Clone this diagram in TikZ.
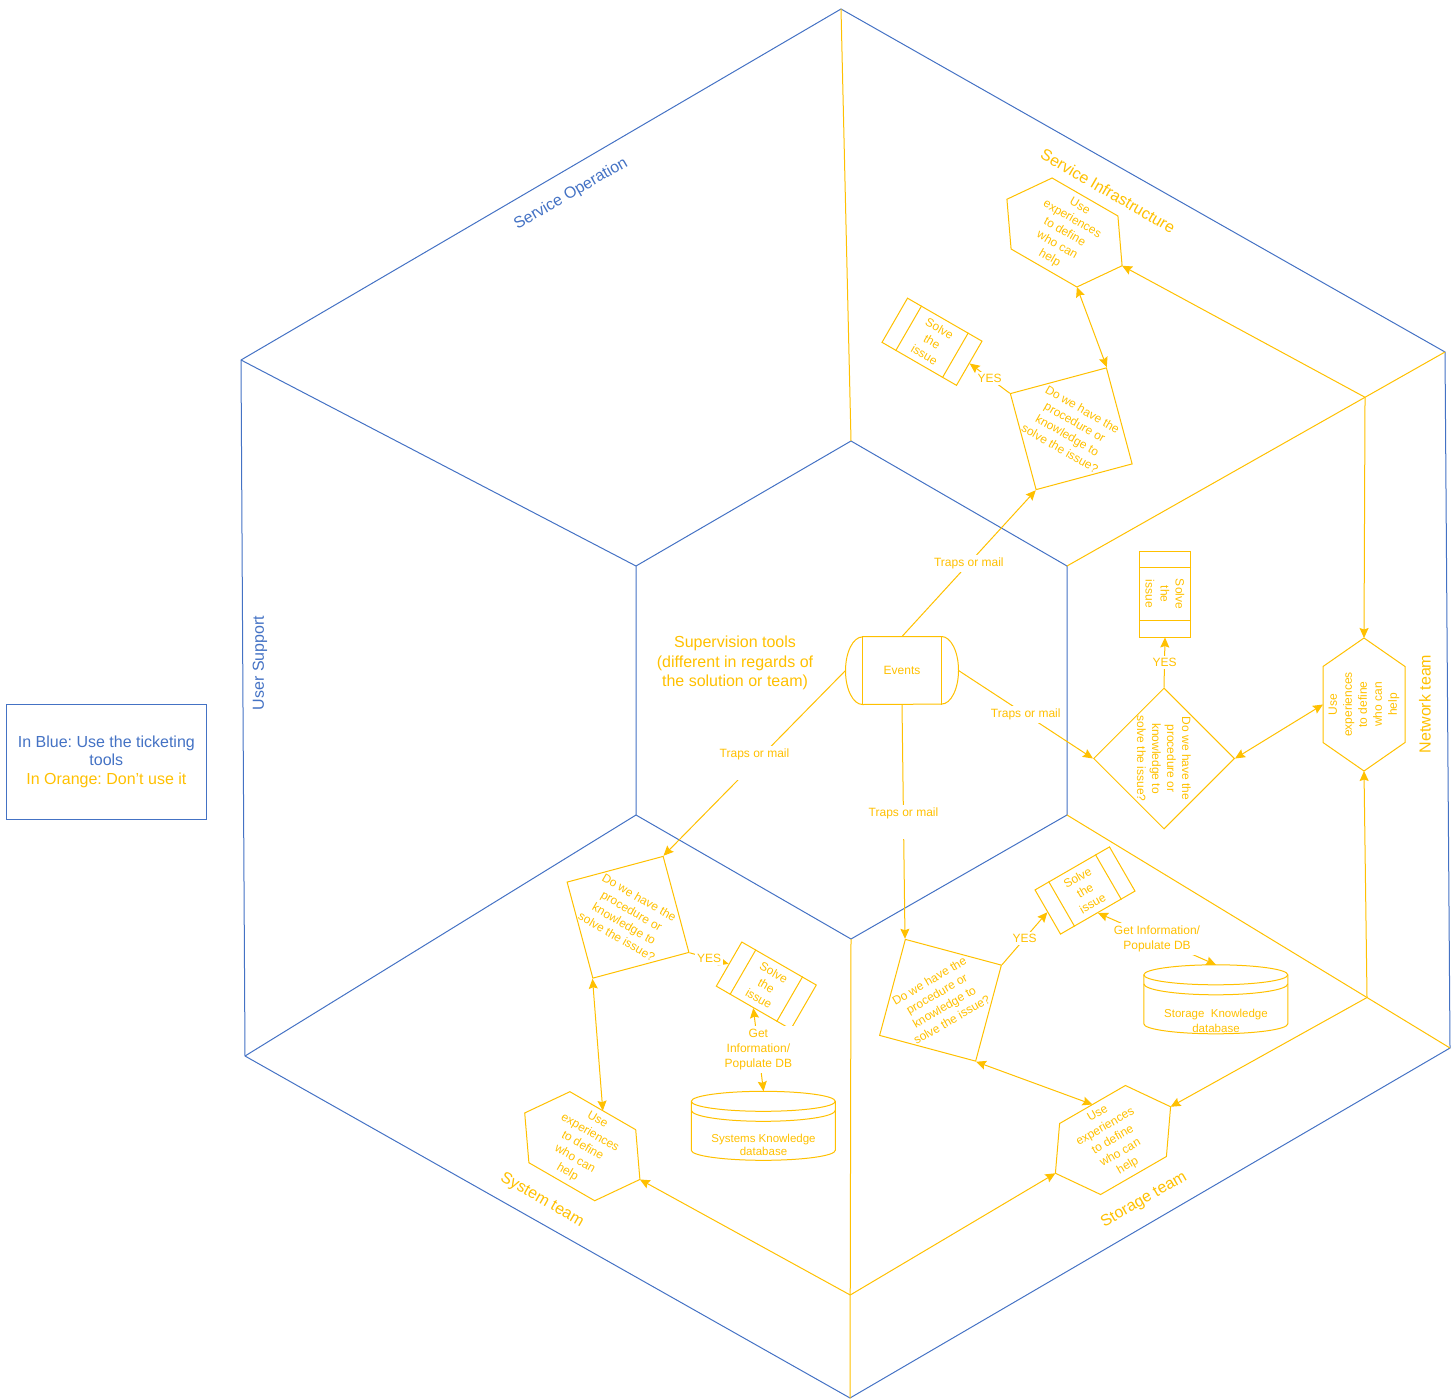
\documentclass[tikz,border=0pt]{standalone}
\usepackage{fontspec}
\setmainfont{Liberation Sans}
\usetikzlibrary{arrows.meta,shapes.geometric,calc}
\definecolor{ublue}{HTML}{4472C4}
\definecolor{uorange}{HTML}{FFC000}

% the two vertical separator lines of a "process" box
\newcommand\procinner[1]{%
  \draw[oline] ($(#1.north west)!0.19!(#1.north east)$) -- ($(#1.south west)!0.19!(#1.south east)$)
               ($(#1.north west)!0.81!(#1.north east)$) -- ($(#1.south west)!0.81!(#1.south east)$);}

% data store outline drawn over an invisible placeholder node
\newcommand\datastore[1]{%
  \begin{scope}[shift={(#1.north west)}]
    \draw[oline] (0,10) arc[start angle=180,end angle=0,x radius=72pt,y radius=10pt]
      -- (144,59) arc[start angle=0,end angle=-180,x radius=72pt,y radius=10pt] -- cycle;
    \draw[oline] (0,10) arc[start angle=180,end angle=360,x radius=72pt,y radius=10pt];
    \draw[oline] (0,19) arc[start angle=180,end angle=360,x radius=72pt,y radius=11pt];
  \end{scope}}

\begin{document}
\frenchspacing
\begin{tikzpicture}[x=1pt,y=-1pt,
  >={Stealth[length=10pt,width=9pt,inset=1.5pt]},
  frameb/.style={draw=ublue,line width=1pt},
  frameo/.style={draw=uorange,line width=1pt},
  oline/.style={draw=uorange,line width=1pt},
  oarrow/.style={oline,->},
  obiarrow/.style={oline,<->},
  otext/.style={text=uorange,font=\fontsize{12}{15}\selectfont,align=center,inner sep=0pt},
  tlabel/.style={otext,fill=white,inner sep=3pt},
  region/.style={font=\fontsize{16}{19.3}\selectfont,inner sep=0pt},
  odia/.style={diamond,draw=uorange,line width=1pt,minimum width=141pt,minimum height=141pt,inner sep=0pt,aspect=1},
  procbox/.style={rectangle,draw=uorange,line width=1pt,minimum width=86pt,minimum height=51pt,inner sep=0pt,
    text=uorange,font=\fontsize{12}{15}\selectfont,align=center},
  dbbox/.style={rectangle,minimum width=144pt,minimum height=69pt,inner sep=0pt},
  hexline/.style={draw=uorange,line width=1pt}
]
\useasboundingbox (0,0) rectangle (1456,1399);

% ---------------- frame: outer and inner hexagons with spokes
\coordinate (O1) at (841,9);
\coordinate (O2) at (241,360);
\coordinate (O3) at (245,1056);
\coordinate (O4) at (850,1398);
\coordinate (O5) at (1450,1048);
\coordinate (O6) at (1445,352);
\coordinate (I1) at (851,441);
\coordinate (I2) at (636,566);
\coordinate (I3) at (636,815);
\coordinate (I4) at (851,939);
\coordinate (I5) at (1067,815);
\coordinate (I6) at (1067,566);
\draw[frameb] (O1) -- (O2) -- (O3) -- (O4) -- (O5) -- (O6) -- cycle;
\draw[frameb] (I1) -- (I2) -- (I3) -- (I4) -- (I5) -- (I6) -- cycle;
\draw[frameb] (O2) -- (I2) (O3) -- (I3);
\draw[frameo] (O1) -- (I1) (O4) -- (I4) (O5) -- (I5) (O6) -- (I6);

% escalation junctions on the spokes
\coordinate (J1) at ($(O6)!0.2116!(I6)$);
\coordinate (J2) at ($(O5)!0.2167!(I5)$);
\coordinate (J3) at ($(O4)!0.2244!(I4)$);

% ---------------- region titles
\node[region,text=ublue,rotate=30] (lblop) at (571,194) {Service Operation};
\node[region,text=uorange,rotate=-30] (lblinf) at (1108,191) {Service Infrastructure};
\node[region,text=ublue,rotate=90] (lblus) at (260,663) {User Support};
\node[region,text=uorange,rotate=90] (lblnet) at (1425,704) {Network team};
\node[region,text=uorange,rotate=-30] (lblsys) at (542,1200) {System team};
\node[region,text=uorange,rotate=30] (lblsto) at (1144,1200) {Storage team};
\node[region,text=uorange,align=center] (sup) at (735,663)
  {Supervision tools\\(different in regards of\\the solution or team)};

% ---------------- legend
\node[draw=ublue,line width=1pt,minimum width=200.7pt,minimum height=115pt,align=center,
  font=\fontsize{16}{18.7}\selectfont,inner sep=0pt] (legend) at (106.35,761.8)
  {\textcolor{ublue}{In Blue: Use the ticketing}\\\textcolor{ublue}{tools}\\\textcolor{uorange}{In Orange: Don't use it}};

% ---------------- events source
\node[otext,minimum width=112.6pt,minimum height=67.6pt] (ev) at (902,670.5) {Events};
\draw[oline] ([xshift=17pt]ev.north west) -- ([xshift=-17pt]ev.north east)
  arc[start angle=90,end angle=-90,x radius=17pt,y radius=33.8pt]
  -- ([xshift=17pt]ev.south west)
  arc[start angle=270,end angle=90,x radius=17pt,y radius=33.8pt] -- cycle;
\draw[oline] ([xshift=17pt]ev.north west) -- ([xshift=17pt]ev.south west)
  ([xshift=-17pt]ev.north east) -- ([xshift=-17pt]ev.south east);

% ---------------- hexagons "who can help"
\begin{scope}[shift={(1064.5,232.5)},rotate=-30]
  \draw[hexline] (66.5,0) coordinate (sihE) -- (38,41) coordinate (sihSE) -- (-38,41) -- (-66.5,0)
    -- (-38,-41) -- (38,-41) -- cycle;
  \node[otext,transform shape] (sihT) at (0,0) {Use\\experiences\\to define\\who can\\help};
\end{scope}
\begin{scope}[shift={(1364,704.5)},rotate=90]
  \draw[hexline] (66.5,0) coordinate (nhT) -- (38,41) -- (-38,41) -- (-66.5,0) coordinate (nhB)
    -- (-38,-41) -- (38,-41) -- cycle;
  \coordinate (nhL) at (0,-41);
  \node[otext,transform shape] (nhT2) at (0,0) {Use\\experiences\\to define\\who can\\help};
\end{scope}
\begin{scope}[shift={(582.3,1146.2)},rotate=-30]
  \draw[hexline] (66.5,0) coordinate (syhE) -- (38,41) -- (-38,41) -- (-66.5,0)
    -- (-38,-41) -- (38,-41) -- cycle;
  \coordinate (syhN) at (0,-41);
  \node[otext,transform shape] (syhT) at (0,0) {Use\\experiences\\to define\\who can\\help};
\end{scope}
\begin{scope}[shift={(1113,1140)},rotate=30]
  \draw[hexline] (66.5,0) coordinate (sthE) -- (38,41) -- (-38,41) -- (-66.5,0) coordinate (sthW)
    -- (-38,-41) -- (38,-41) -- cycle;
  \coordinate (sthN) at (0,-41);
  \node[otext,transform shape] (sthT) at (0,0) {Use\\experiences\\to define\\who can\\help};
\end{scope}

% ---------------- decision diamonds
\node[odia,rotate=-30] (sidia) at (1071.25,428.75) {};
\node[otext,rotate=-30] (sidiaT) at (sidia.center) {Do we have the\\procedure or\\knowledge to\\solve the issue?};
\node[odia] (ndia) at (1164,758.5) {};
\node[otext,rotate=-90] (ndiaT) at (ndia.center) {Do we have the\\procedure or\\knowledge to\\solve the issue?};
\node[odia,rotate=-30] (sydia) at (628,917.25) {};
\node[otext,rotate=-30] (sydiaT) at (sydia.center) {Do we have the\\procedure or\\knowledge to\\solve the issue?};
\node[odia,rotate=30] (stdia) at (940.5,1000.25) {};
\node[otext,rotate=30] (stdiaT) at (stdia.center) {Do we have the\\procedure or\\knowledge to\\solve the issue?};

% ---------------- "Solve the issue" process boxes
\node[procbox,rotate=-30] (sibox) at (932,341.75) {Solve\\the\\issue};
\procinner{sibox}
\node[procbox,rotate=-90] (nbox) at (1165,594) {Solve\\the\\issue};
\procinner{nbox}
\node[procbox,rotate=-30] (sybox) at (766.3,985.6) {Solve\\the\\issue};
\procinner{sybox}
\node[procbox,rotate=30] (stbox) at (1085,890.5) {Solve\\the\\issue};
\procinner{stbox}

% ---------------- knowledge databases
\node[dbbox] (sysdb) at (763.5,1126) {};
\datastore{sysdb}
\node[otext,font=\fontsize{11.5}{13}\selectfont] (sysdbT) at ($(sysdb.north)+(0,54)$) {Systems Knowledge\\database};
\node[dbbox] (stdb) at (1216,999.5) {};
\datastore{stdb}
\node[otext,font=\fontsize{11.5}{14.5}\selectfont] (stdbT) at ($(stdb.north)+(0,56)$) {Storage\ \ Knowledge\\database};

% ---------------- connectors from the supervision tools
\draw[oarrow] (ev.north) -- node[tlabel] {Traps or mail} (sidia.south);
\draw[oarrow] (ev.east) -- node[tlabel] {Traps or mail} (ndia.west);
\draw[oarrow] (ev.south) -- node[tlabel] {Traps or mail\\\strut} (stdia.north);
\draw[oarrow] (ev.west) -- node[tlabel] {Traps or mail\\\strut} (sydia.north);

% ---------------- YES branches
\draw[oarrow] (sidia.west) -- node[tlabel,inner sep=2pt] {YES} (sibox.east);
\draw[oarrow] (ndia.north) -- node[tlabel,inner sep=2pt] {YES} (nbox.east);
\draw[oarrow] (sydia.east) -- node[tlabel,inner sep=2pt] {YES} (sybox.west);
\draw[oarrow] (stdia.east) -- node[tlabel,inner sep=2pt] {YES} (stbox.west);

% ---------------- knowledge base links
\draw[obiarrow] (sybox.south) -- node[tlabel] {Get\\Information/\\Populate DB} (sysdb.north);
\draw[obiarrow] (stbox.south) -- node[tlabel] {Get Information/\\Populate DB} (stdb.north);

% ---------------- decision <-> expertise
\draw[obiarrow] (sihSE) -- (sidia.north);
\draw[obiarrow] (ndia.east) -- (nhL);
\draw[obiarrow] (sydia.south) -- (syhN);
\draw[obiarrow] (stdia.south) -- (sthN);

% ---------------- escalation between teams
\draw[oarrow] (J1) -- (sihE);
\draw[oarrow] (J1) -- (nhT);
\draw[oarrow] (J2) -- (nhB);
\draw[oarrow] (J2) -- (sthE);
\draw[oarrow] (J3) -- (syhE);
\draw[oarrow] (J3) -- (sthW);
\end{tikzpicture}
\end{document}
